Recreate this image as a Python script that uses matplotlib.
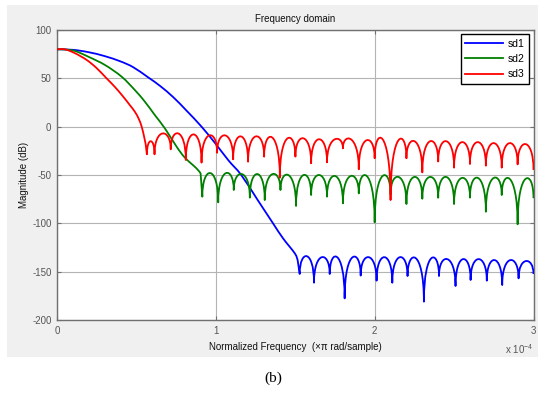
import numpy as np
import matplotlib.pyplot as plt
from matplotlib.path import Path
from matplotlib.patches import PathPatch, Rectangle
from matplotlib.lines import Line2D

plt.rcParams['font.family'] = ['Liberation Sans', 'DejaVu Sans']
plt.rcParams['mathtext.default'] = 'regular'
plt.rcParams['axes.unicode_minus'] = False

# frequency in units of 1e-4 (x pi rad/sample), magnitude in dB
# each curve: a smooth fall-off, then a train of sidelobes
# (nulls at null_x/null_y, lobe tops at peak_y between consecutive nulls)
sd1_fall_x = [0, 0.1, 0.2, 0.3, 0.4, 0.48, 0.574, 0.65, 0.732, 0.816, 0.91, 1.0,
              1.08, 1.16, 1.26, 1.36, 1.423, 1.497, 1.515]
sd1_fall_y = [80, 79.5, 77, 73, 67.5, 61.5, 51, 42, 30.5, 16.5, 0, -18,
              -35, -50, -75, -100, -115.5, -131, -138]
sd1_null_x = [1.528, 1.618, 1.717, 1.811, 1.912, 2.012, 2.111, 2.207, 2.31, 2.405,
              2.509, 2.604, 2.706, 2.803, 2.906, 3.0]
sd1_null_y = [-152.4, -161.4, -152.4, -177.6, -154, -159.3, -161.4, -154.5, -181, -154.5,
              -164.8, -158.6, -159.3, -163.8, -156.9, -152.4]
sd1_peak_y = [-134, -135, -135, -135, -135, -135, -135, -136, -136, -137,
              -137, -137, -138, -138, -139]

sd2_fall_x = [0, 0.05, 0.113, 0.197, 0.302, 0.407, 0.49, 0.553, 0.616, 0.679, 0.753,
              0.805, 0.878, 0.904]
sd2_fall_y = [80, 79.8, 78.3, 72.4, 63.8, 51.7, 37.9, 25.9, 12, -1.7, -20.7,
              -32, -43.1, -48.3]
sd2_null_x = [0.915, 1.015, 1.113, 1.214, 1.308, 1.407, 1.505, 1.6, 1.7, 1.8, 1.9,
              2.0, 2.1, 2.2, 2.3, 2.4, 2.5, 2.6, 2.7, 2.8, 2.9, 3.0]
sd2_null_y = [-72.4, -78.3, -65.5, -73.4, -75.9, -65.5, -82, -70.7, -72.4, -79.3, -69,
              -99, -70, -80, -74.5, -73.5, -80, -73.4, -88, -70.7, -101, -74]
sd2_peak_y = [-48, -48, -49, -49, -49, -50, -50, -50, -51, -51, -51,
              -51, -52, -52, -52, -52, -53, -53, -53, -54, -54]

sd3_fall_x = [0, 0.05, 0.113, 0.187, 0.25, 0.312, 0.365, 0.417, 0.46, 0.49, 0.515,
              0.533, 0.548, 0.558]
sd3_fall_y = [80, 80, 76, 69, 60.5, 50, 41, 31, 22, 15.5, 8, 0, -10, -18]
sd3_null_x = [0.566, 0.614, 0.716, 0.811, 0.91, 1.008, 1.109, 1.203, 1.304, 1.403, 1.501,
              1.6, 1.7, 1.8, 1.9, 2.0, 2.1, 2.2, 2.3, 2.4, 2.5, 2.6, 2.7, 2.8, 2.9, 3.0]
sd3_null_y = [-28.6, -28.6, -23.4, -34.5, -37.2, -27, -33.8, -36.2, -31, -52.8, -31,
              -37.9, -36.9, -22.4, -44.1, -32.7, -75.9, -32.7, -47.3, -36, -42.4,
              -38.6, -40.3, -42.4, -39, -44.8]
sd3_peak_y = [-15, -7, -7, -8, -9, -9, -10, -10, -11, -12, -12,
              -13, -13, -13, -14, -13, -14, -15, -15, -15, -16, -16, -17, -17, -18]

labels = ['sd1', 'sd2', 'sd3']
colors = ['#0000ff', '#008000', '#ff0000']


def response_path(fall_x, fall_y, null_x, null_y, peak_y):
    pts = list(zip(fall_x, fall_y))
    verts = [pts[0]]
    codes = [Path.MOVETO]
    # smooth the fall-off (catmull-rom through the read points)
    n = len(pts)
    for i in range(n - 1):
        p0 = pts[max(i - 1, 0)]
        p1, p2 = pts[i], pts[i + 1]
        p3 = pts[min(i + 2, n - 1)]
        c1 = (p1[0] + (p2[0] - p0[0]) / 6, p1[1] + (p2[1] - p0[1]) / 6)
        c2 = (p2[0] - (p3[0] - p1[0]) / 6, p2[1] - (p3[1] - p1[1]) / 6)
        verts += [c1, c2, p2]
        codes += [Path.CURVE4] * 3
    verts.append((null_x[0], null_y[0]))
    codes.append(Path.LINETO)
    # each sidelobe drawn as a cubic arch between two nulls
    for i, p in enumerate(peak_y):
        a, b = null_x[i], null_x[i + 1]
        da, db = null_y[i], null_y[i + 1]
        c = (8 * p - da - db) / 6.0
        verts += [(a, c), (b, c), (b, db)]
        codes += [Path.CURVE4] * 3
    return Path(verts, codes)


fig = plt.figure(figsize=(5.45, 3.98), dpi=100)
fig.patch.set_facecolor('white')
fig.add_artist(Rectangle((7 / 545, 1 - 357 / 398), 531 / 545, 352 / 398,
                         transform=fig.transFigure, facecolor='#f0f0f0',
                         edgecolor='none', zorder=-10))

ax = fig.add_axes([57 / 545, 1 - 320 / 398, 476.5 / 545, 290 / 398])
ax.set_facecolor('white')

series = [
    (sd1_fall_x, sd1_fall_y, sd1_null_x, sd1_null_y, sd1_peak_y),
    (sd2_fall_x, sd2_fall_y, sd2_null_x, sd2_null_y, sd2_peak_y),
    (sd3_fall_x, sd3_fall_y, sd3_null_x, sd3_null_y, sd3_peak_y),
]
handles = []
for s, lab, col in zip(series, labels, colors):
    ax.add_patch(PathPatch(response_path(*s), facecolor='none', edgecolor=col,
                           lw=1.3, zorder=3, joinstyle='round'))
    handles.append(Line2D([], [], color=col, lw=1.3))

ax.set_xlim(0, 3)
ax.set_ylim(-200, 100)
ax.set_xticks([0, 1, 2, 3])
ax.set_yticks([-200, -150, -100, -50, 0, 50, 100])
ax.grid(True, color='#b4b4b4', lw=0.8)
ax.set_axisbelow(True)
for sp in ax.spines.values():
    sp.set_color('#707070')
    sp.set_linewidth(1.0)
ax.tick_params(direction='in', length=3, width=0.8, color='#707070',
               labelsize=7, labelcolor='#555555', top=True, right=True, pad=4)

ax.set_title('Frequency domain', fontsize=7, color='#111111', pad=6)
ax.set_xlabel('Normalized Frequency  (\u00d7\u03c0 rad/sample)', fontsize=7,
              color='#111111', labelpad=5)
ax.set_ylabel('Magnitude (dB)', fontsize=7, color='#111111', labelpad=2)
ax.text(1.0, -0.075, r'x 10$^{-4}$', transform=ax.transAxes, ha='right', va='top',
        fontsize=7, color='#555555')

leg = ax.legend(handles, labels, loc='upper right', bbox_to_anchor=(0.9906, 0.986),
                borderaxespad=0, fontsize=7.5, handlelength=3.6, handletextpad=0.45,
                labelspacing=0.5, borderpad=0.45, fancybox=False, framealpha=1)
leg.get_frame().set_edgecolor('black')
leg.get_frame().set_linewidth(1.0)

fig.text(273 / 545, 1 - 378 / 398, '(b)', family='Liberation Serif', fontsize=11,
         ha='center', va='center')

fig.savefig('out.png', dpi=100)
